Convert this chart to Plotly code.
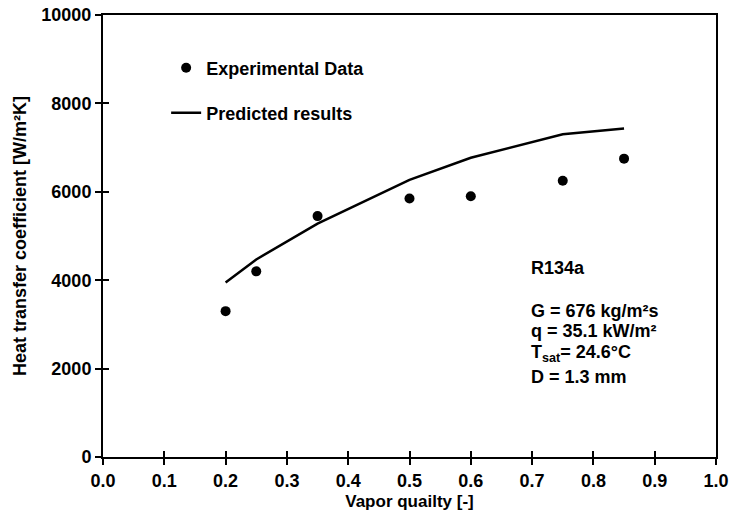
import plotly.graph_objects as go

# Data
exp_x = [0.20, 0.25, 0.35, 0.50, 0.60, 0.75, 0.85]
exp_y = [3300, 4200, 5450, 5850, 5900, 6250, 6750]
pred_x = [0.20, 0.25, 0.35, 0.50, 0.60, 0.75, 0.85]
pred_y = [3950, 4470, 5280, 6270, 6770, 7300, 7430]

x_ticks = [0.0, 0.1, 0.2, 0.3, 0.4, 0.5, 0.6, 0.7, 0.8, 0.9, 1.0]
x_tick_text = ["0.0", "0.1", "0.2", "0.3", "0.4", "0.5", "0.6", "0.7", "0.8", "0.9", "1.0"]
y_ticks = [0, 2000, 4000, 6000, 8000, 10000]
y_tick_text = ["0", "2000", "4000", "6000", "8000", "10000"]

FONT = "Liberation Sans, Arial, sans-serif"
fig = go.Figure()

fig.add_trace(go.Scatter(
    x=exp_x, y=exp_y, mode="markers", name="<b>Experimental Data</b>",
    marker=dict(color="black", size=10), legend="legend"))
fig.add_trace(go.Scatter(
    x=pred_x, y=pred_y, mode="lines", name="<b>Predicted results</b>",
    line=dict(color="black", width=2.5), legend="legend2"))

tick_font = dict(family=FONT, size=18, color="black", weight="bold")

fig.update_layout(
    width=731, height=518,
    margin=dict(l=103, r=15, t=15, b=61),
    paper_bgcolor="white", plot_bgcolor="white",
    font=dict(family=FONT, color="black"),
    showlegend=True,
    xaxis=dict(range=[0, 1], tickvals=x_ticks, ticktext=x_tick_text,
               showgrid=False, zeroline=False, automargin=False,
               ticklabeloverflow="allow",
               showline=True, linecolor="black", linewidth=2, mirror=True,
               ticks="outside", ticklen=6, tickwidth=1.5, tickcolor="black",
               tickfont=tick_font,
               title=dict(text="<b>Vapor quailty [-]</b>",
                          font=dict(family=FONT, size=17, color="black"), standoff=6)),
    yaxis=dict(range=[0, 10000], tickvals=y_ticks, ticktext=y_tick_text,
               showgrid=False, zeroline=False, automargin=False,
               ticklabeloverflow="allow",
               showline=True, linecolor="black", linewidth=2, mirror=True,
               ticks="outside", ticklen=6, tickwidth=1.5, tickcolor="black",
               tickfont=tick_font,
               title=dict(text="<b>Heat transfer coefficient [W/m²K]</b>",
                          font=dict(family=FONT, size=18, color="black"), standoff=10)),
    xaxis2=dict(overlaying="x", matches="x", side="bottom", anchor="y2",
                range=[0, 1], tickvals=x_ticks, showticklabels=False,
                ticks="inside", ticklen=6, tickwidth=1.5, tickcolor="black",
                showgrid=False, zeroline=False, showline=False, automargin=False),
    yaxis2=dict(overlaying="y", matches="y", side="left", anchor="x2",
                range=[0, 10000], tickvals=y_ticks, showticklabels=False,
                ticks="inside", ticklen=6, tickwidth=1.5, tickcolor="black",
                showgrid=False, zeroline=False, showline=False, automargin=False),
    legend=dict(x=0.103, y=0.880, xanchor="left", yanchor="middle",
                bgcolor="rgba(0,0,0,0)", font=dict(family=FONT, size=18, color="black")),
    legend2=dict(x=0.103, y=0.778, xanchor="left", yanchor="middle",
                 bgcolor="rgba(0,0,0,0)", font=dict(family=FONT, size=18, color="black")),
)

# dummy trace to activate the inner-tick axes
fig.add_trace(go.Scatter(x=[None], y=[None], xaxis="x2", yaxis="y2",
                         showlegend=False, hoverinfo="skip"))

notes = [
    ("<b>R134a</b>", 4280),
    ("<b>G = 676 kg/m²s</b>", 3300),
    ("<b>q = 35.1 kW/m²</b>", 2860),
    ("<b>T<sub>sat</sub>= 24.6°C</b>", 2350),
    ("<b>D = 1.3 mm</b>", 1800),
]
for text, yv in notes:
    fig.add_annotation(x=0.695, y=yv, xref="x", yref="y", text=text,
                       showarrow=False, xanchor="left", yanchor="middle",
                       font=dict(family=FONT, size=18, color="black"))

fig.write_html("out.html", config={"displayModeBar": False},
               post_script="document.body.style.margin='0';document.body.style.overflow='hidden';")
